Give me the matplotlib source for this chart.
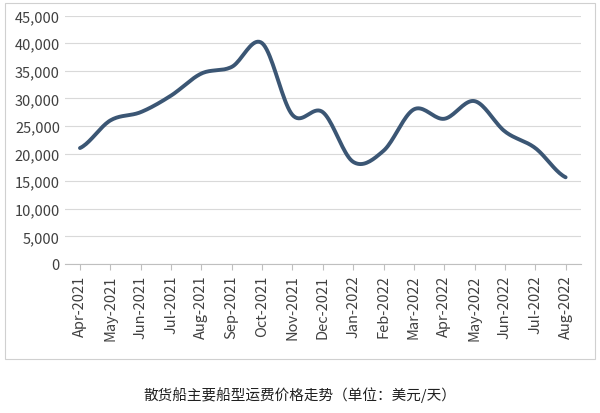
import matplotlib
matplotlib.use("Agg")
import matplotlib.pyplot as plt
import numpy as np
from matplotlib.patches import Rectangle

plt.rcParams['font.family'] = ['Noto Sans CJK SC', 'DejaVu Sans']

months = ["Apr-2021","May-2021","Jun-2021","Jul-2021","Aug-2021","Sep-2021","Oct-2021",
          "Nov-2021","Dec-2021","Jan-2022","Feb-2022","Mar-2022","Apr-2022","May-2022",
          "Jun-2022","Jul-2022","Aug-2022"]
values = [21000,26000,27500,30500,34500,35700,40000,27000,27500,18500,20500,28000,26300,29500,24000,21000,15700]

def catmull(y, n=20):
    y = np.asarray(y, float)
    p = np.concatenate([[y[0]], y, [y[-1]]])
    xs, ys = [], []
    for i in range(len(y) - 1):
        p0, p1, p2, p3 = p[i], p[i+1], p[i+2], p[i+3]
        t = np.linspace(0, 1, n, endpoint=False)
        ys.append(0.5*((2*p1) + (-p0+p2)*t + (2*p0-5*p1+4*p2-p3)*t**2 + (-p0+3*p1-3*p2+p3)*t**3))
        xs.append(i + t)
    xs.append([len(y)-1]); ys.append([y[-1]])
    return np.concatenate(xs), np.concatenate(ys)

fig = plt.figure(figsize=(6.0, 4.14), dpi=100)
fig.patches.append(Rectangle((0.008, 0.13), 0.984, 0.86, transform=fig.transFigure,
                             fill=False, edgecolor='#d0d0d0', linewidth=0.8))
ax = fig.add_axes([0.108, 0.36, 0.86, 0.6])
x, y = catmull(values)
ax.plot(x, y, color='#3b5674', linewidth=2.8, solid_capstyle='round')
ax.set_xlim(-0.5, len(months) - 0.5)
ax.set_ylim(0, 45000)
ax.set_yticks(range(0, 45001, 5000))
ax.set_yticklabels([f"{v:,}" for v in range(0, 45001, 5000)], fontsize=10.5, color='#404040')
ax.set_xticks(range(len(months)))
ax.set_xticklabels(months, rotation=90, fontsize=10.5, color='#404040')
ax.grid(axis='y', color='#d9d9d9', linewidth=0.8)
ax.set_axisbelow(True)
for s in ['top', 'right', 'left']:
    ax.spines[s].set_visible(False)
ax.spines['bottom'].set_color('#bfbfbf')
ax.tick_params(axis='y', length=0)
ax.tick_params(axis='x', length=4, color='#bfbfbf')
fig.text(0.5, 0.035, "散货船主要船型运费价格走势（单位：美元/天）", ha='center', fontsize=10.5, color='#202020')
fig.savefig("out.png", dpi=100)
